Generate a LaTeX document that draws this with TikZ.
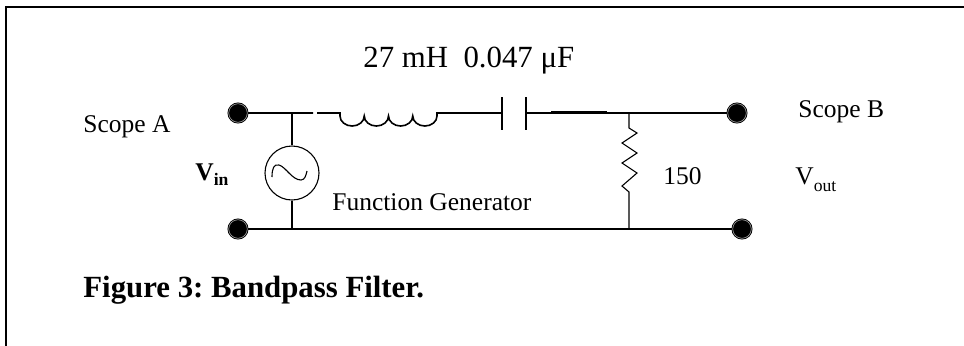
\documentclass[tikz,border=0pt]{standalone}
\usepackage{fontspec}
\setmainfont{Liberation Serif}
\usetikzlibrary{calc}
\frenchspacing
\newcommand\lowidx[2]{\raisebox{-#1}{\fontsize{8.8}{9}\selectfont #2}}

\begin{document}
\begin{tikzpicture}[x=.5pt,y=.5pt,
	wire/.style={line width=.8pt},
	thinwire/.style={line width=.55pt},
	terminal/.style={circle,fill=black,draw=black,double=black!35,double distance=.3pt,line width=.45pt,minimum size=9.3pt,inner sep=0pt},
	lbl/.style={inner sep=0pt,anchor=base west,font=\fontsize{12.75}{15}\selectfont},
	biglbl/.style={inner sep=0pt,anchor=base west,font=\fontsize{15.4}{18}\selectfont}]
	\path[use as bounding box,clip] (0,0) rectangle (964,345);
	% frame, cut at right and bottom
	\draw[line width=1pt] (6,-10) -- (6,338) -- (975,338);
	\path
	(238,232) coordinate (SA)
	(238,116) coordinate (GA)
	(737,232) coordinate (SB)
	(742,116) coordinate (GB)
	(292,232) coordinate (J1)
	(292,116) coordinate (J2)
	(629,232) coordinate (J3)
	(629,116) coordinate (J4)
	(502,232) coordinate (C1)
	(526,232) coordinate (C2)
	;
	% generator
	\node[circle,draw,thinwire,minimum size=27pt,inner sep=0pt] (FG) at (292,172) {};
	\draw[thinwire] (J1)--(FG.north) (FG.south)--(J2);
	\draw[thinwire] (272,168) .. controls (272,177) and (274,181) .. (279,180)
	.. controls (286,178) and (292,165) .. (301,165) .. controls (305,165) and (306,170) .. (307,174);
	% inductor
	\draw[wire] (SA)--(313,232) (317,232)--(340,232)--(340,229)
	arc(180:360:12.125 and 10) arc(180:360:12.125 and 10)
	arc(180:360:12.125 and 10) arc(180:360:12.125 and 10)
	--(437,232)--(C1);
	\draw[line width=1.4pt] (443,232)--(458,232);
	% capacitor
	\draw[wire] (C1)++(0,16)--++(0,-33) (C2)++(0,16)--++(0,-33);
	\draw[wire] (C2)--(SB);
	\draw[line width=1.3pt] (551,233)--(607,233);
	% resistor
	\draw[thinwire] (J3)--(629,217)--(637,212)--(622,202)--(637,192)--(622,182)
	--(637,172)--(622,159)--(629,153)--(J4);
	\draw[wire] (GA)--(GB);
	\foreach \t in {SA,GA,SB,GB} \node[terminal] at (\t) {};
	% labels
	\node[biglbl] (val) at (363,278) {27 mH\ \ 0.047 μF};
	\node[lbl] (scA) at (83,213) {Scope A};
	\node[lbl] (scB) at (798,228) {Scope B};
	\node[lbl] (vin) at (195,165) {\textbf{V}\lowidx{2.5pt}{\textbf{in}}};
	\node[lbl] (fgen) at (332,135) {Function Generator};
	\node[lbl] (res) at (663,161) {150};
	\node[lbl] (vout) at (795,161) {V\lowidx{3.5pt}{out}};
	\node[biglbl] (cap) at (83,48) {\textbf{Figure 3: Bandpass Filter.}};
\end{tikzpicture}
\end{document}
